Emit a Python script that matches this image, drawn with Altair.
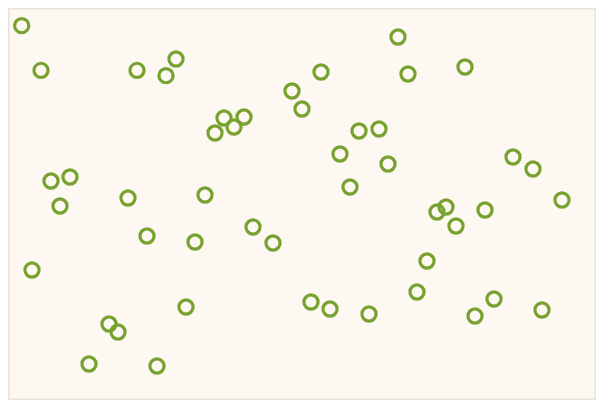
import altair as alt
import pandas as pd

xs = [21.7, 41, 137, 166, 176, 321, 398, 408, 465, 292, 302, 224, 244, 234, 215,
      359, 379, 340, 388, 350, 513, 533, 562, 51, 70, 60, 128, 205, 147, 195,
      253, 273, 437, 446, 456, 485, 427, 32, 417, 494, 475, 542, 311, 330, 369,
      186, 109, 118, 89, 157]
ys = [25.7, 70.3, 70.3, 75.7, 59, 72, 37, 74, 67, 91, 109, 118, 117, 127, 133,
      131, 129, 154, 164, 187, 157, 169, 200, 181, 177, 206, 198, 195, 236, 242,
      227, 243, 212, 207, 226, 210, 261, 270, 292, 299, 316, 310, 302, 309, 314,
      307, 324, 332, 364, 366]

df = pd.DataFrame({"x": xs, "y": ys})

chart = alt.Chart(df).mark_point(
    shape="circle", filled=False, size=200, strokeWidth=3.2, color="#78a22f", opacity=1
).encode(
    x=alt.X("x:Q", scale=alt.Scale(domain=[8, 596], nice=False, zero=False), axis=None),
    y=alt.Y("y:Q", scale=alt.Scale(domain=[8, 400], nice=False, zero=False, reverse=True), axis=None),
).properties(
    width=588, height=392, padding=0, autosize="none", background="#fdfaf4"
).configure_view(
    fill="#fdf9f2", stroke="#e9e3d9", strokeWidth=3
)

chart.save("out.html", embed_options={"renderer": "svg", "actions": False})
